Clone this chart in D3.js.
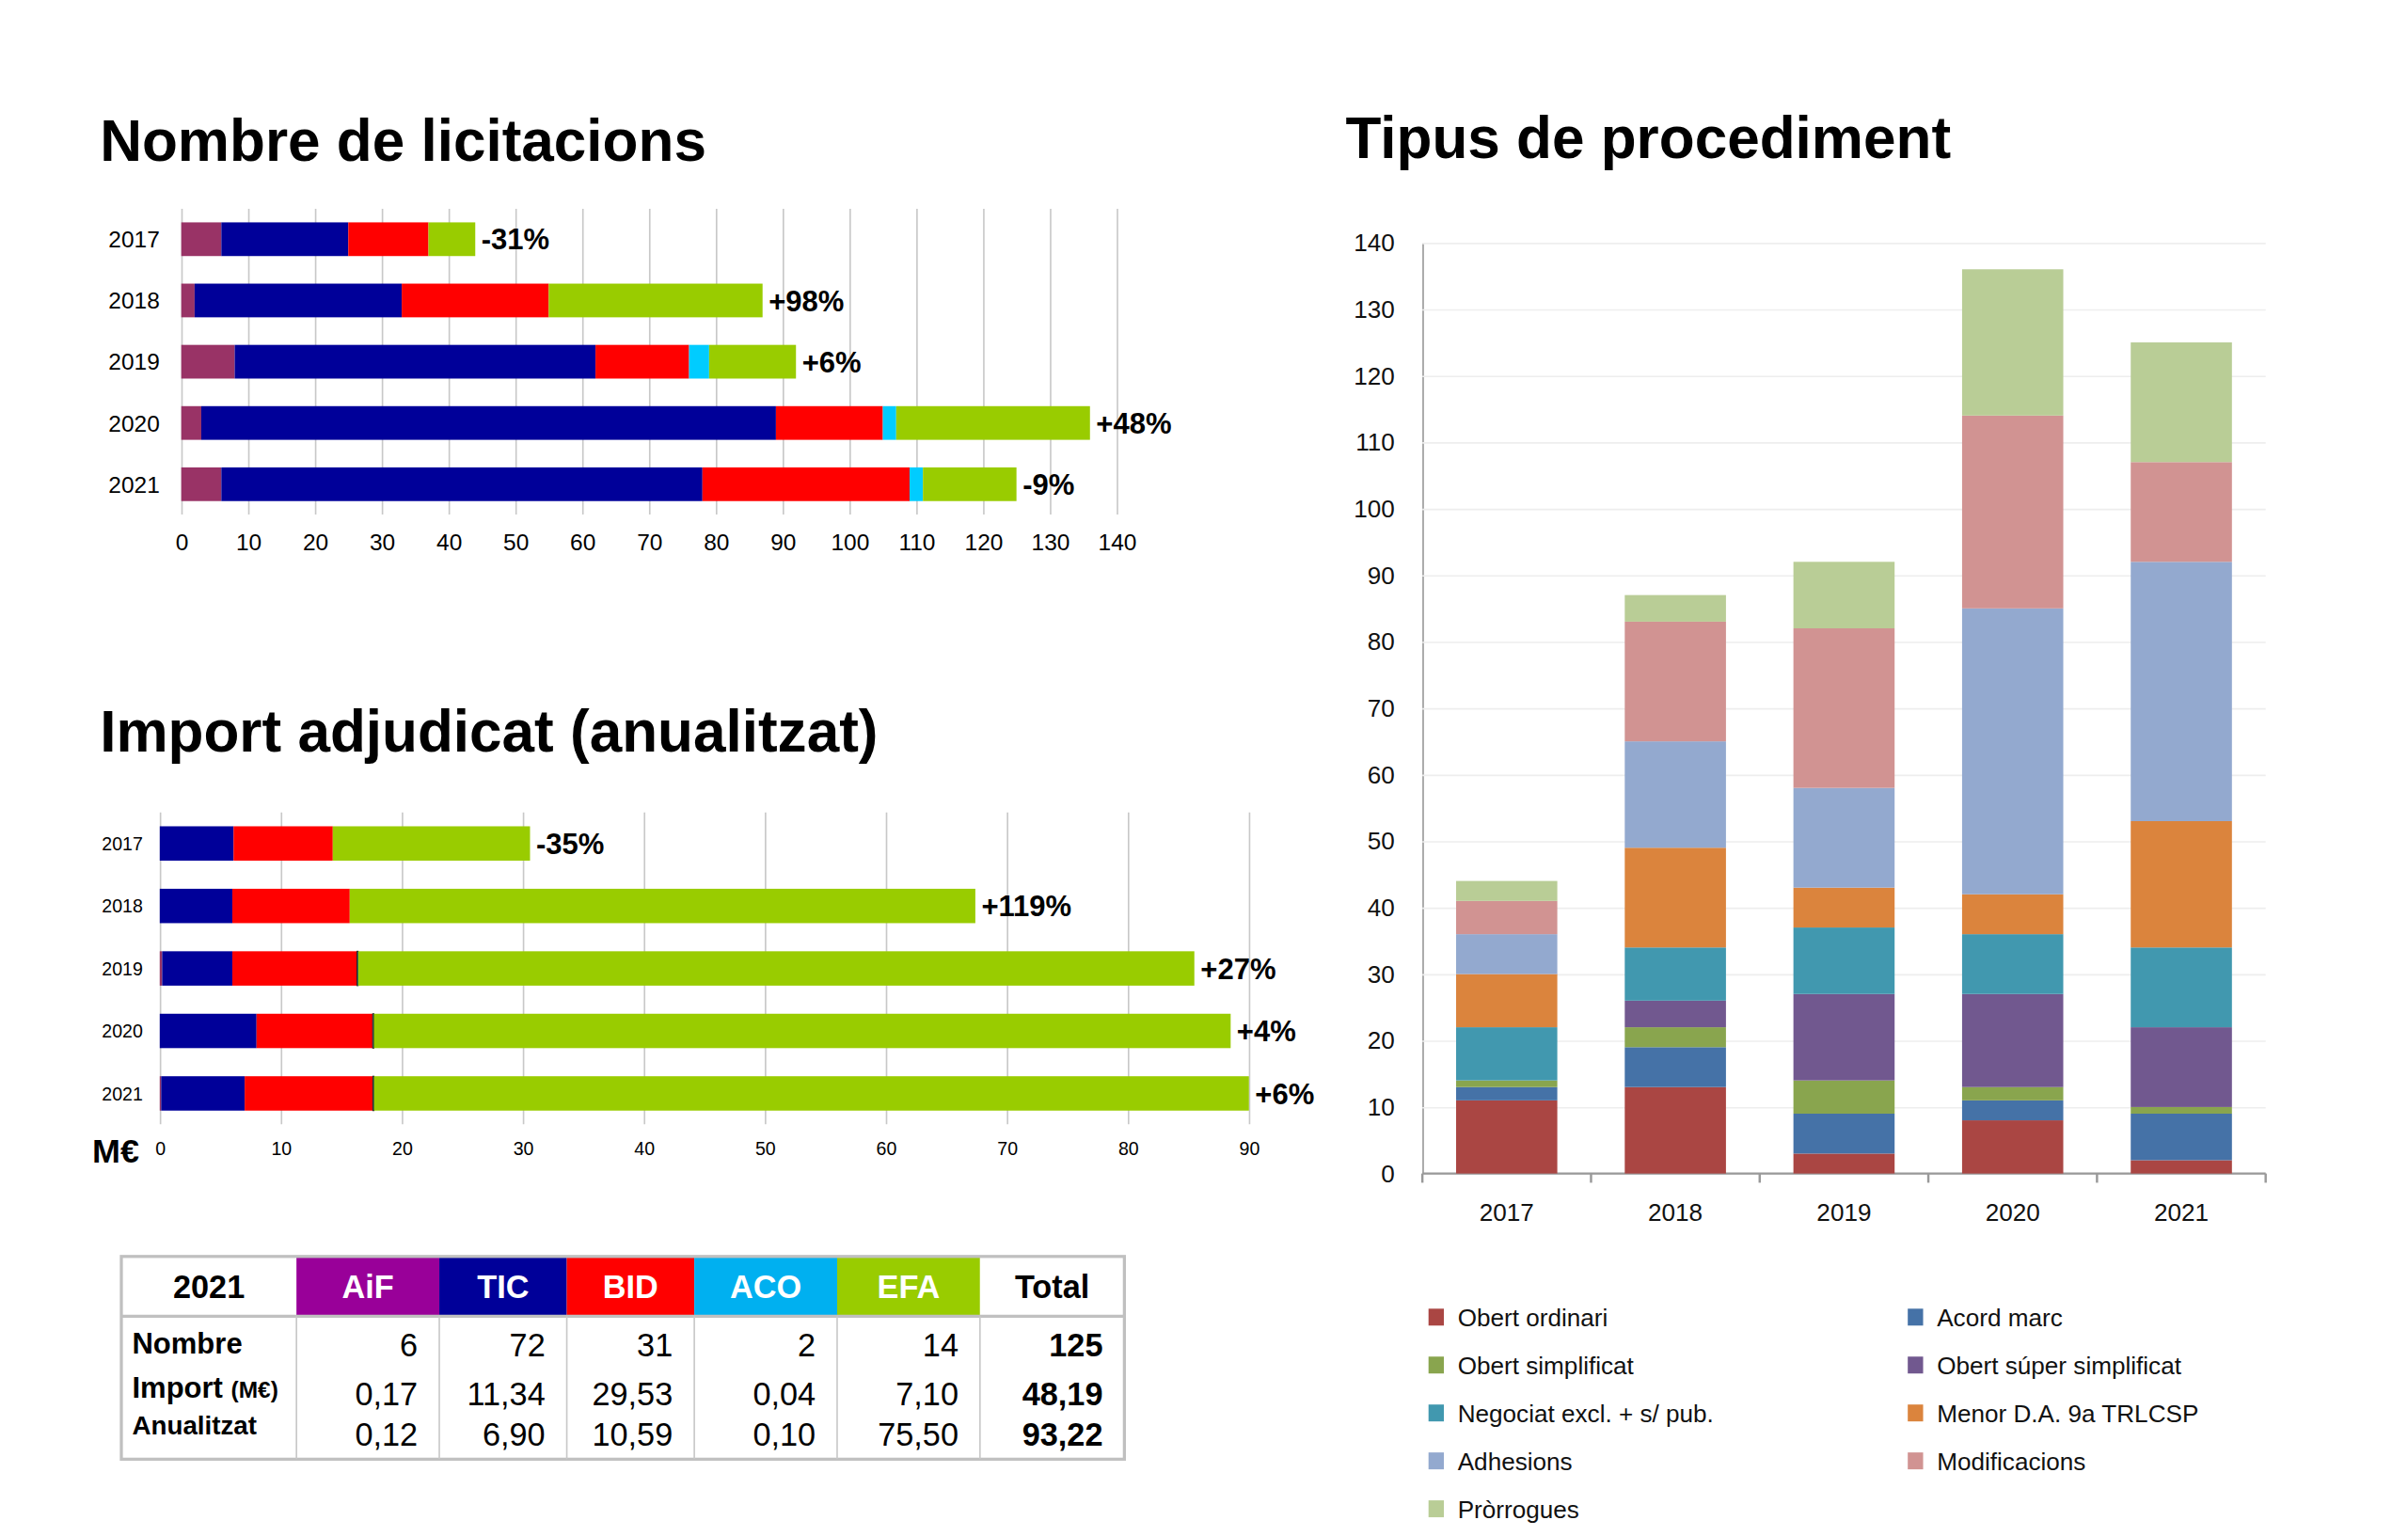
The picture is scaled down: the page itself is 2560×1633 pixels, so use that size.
<!DOCTYPE html>
<html>
<head>
<meta charset="utf-8">
<script src="https://cdn.jsdelivr.net/npm/d3@7"></script>
<style>
body { margin: 0; background: #fff; }
text { font-family: "Liberation Sans", Arial, sans-serif; }
</style>
</head>
<body>
<div id="chart"></div>
<script>
// data
var years = ["2017", "2018", "2019", "2020", "2021"];
var units = ["AiF", "TIC", "BID", "ACO", "EFA"];
var unitColors = ["#993366", "#000099", "#ff0000", "#00ccff", "#99cc00"];

var nombreAiF = [6, 2, 8, 3, 6];
var nombreTIC = [19, 31, 54, 86, 72];
var nombreBID = [12, 22, 14, 16, 31];
var nombreACO = [0, 0, 3, 2, 2];
var nombreEFA = [7, 32, 13, 29, 14];
var nombrePct = ["-31%", "+98%", "+6%", "+48%", "-9%"];

var importAiF = [0, 0, 0.2, 0, 0.12];
var importTIC = [6.1, 6.0, 5.8, 8.0, 6.9];
var importBID = [8.2, 9.7, 10.3, 9.6, 10.59];
var importACO = [0, 0, 0.1, 0.1, 0.1];
var importEFA = [16.3, 51.7, 69.1, 70.8, 72.3];
var importPct = ["-35%", "+119%", "+27%", "+4%", "+6%"];

var procNames = ["Obert ordinari", "Acord marc", "Obert simplificat", "Obert súper simplificat",
  "Negociat excl. + s/ pub.", "Menor D.A. 9a TRLCSP", "Adhesions", "Modificacions", "Pròrrogues"];
var procColors = ["#aa4643", "#4572a7", "#89a54e", "#71588f", "#4198af", "#db843d", "#93a9cf", "#d19392", "#b9cd96"];
var obertOrdinari = [11, 13, 3, 8, 2];
var acordMarc = [2, 6, 6, 3, 7];
var obertSimplificat = [1, 3, 5, 2, 1];
var obertSuper = [0, 4, 13, 14, 12];
var negociat = [8, 8, 10, 9, 12];
var menor = [8, 15, 6, 6, 19];
var adhesions = [6, 16, 15, 43, 39];
var modificacions = [5, 18, 24, 29, 15];
var prorrogues = [3, 4, 10, 22, 18];

var tableHead = ["2021", "AiF", "TIC", "BID", "ACO", "EFA", "Total"];
var headColors = ["#fff", "#990099", "#000099", "#ff0000", "#00b0f0", "#99cc00", "#fff"];
var rowLabels = ["Nombre", "Import", "Anualitzat"];
var rowNombre = ["6", "72", "31", "2", "14", "125"];
var rowImport = ["0,17", "11,34", "29,53", "0,04", "7,10", "48,19"];
var rowAnual = ["0,12", "6,90", "10,59", "0,10", "75,50", "93,22"];

var s = 1633 / 1000;
var svg = d3.select("#chart").append("svg").attr("width", 2560).attr("height", 1633);
var root = svg.append("g").attr("transform", "scale(" + s + ")");

function title(x, y, t) {
  root.append("text").attr("x", x).attr("y", y).attr("font-size", 38).attr("font-weight", "bold").text(t);
}
title(65, 105, "Nombre de licitacions");
title(65, 489, "Import adjudicat (anualitzat)");
title(876, 103, "Tipus de procediment");

function hbars(cfg) {
  var g = root.append("g");
  var x = d3.scaleLinear().domain([0, cfg.max]).range([cfg.x0, cfg.x1]);
  var y = d3.scaleBand().domain(years).range([cfg.top, cfg.bottom]).paddingInner(0.45).paddingOuter(0.22);
  g.append("g").attr("transform", "translate(0," + cfg.bottom + ")")
    .call(d3.axisBottom(x).ticks(cfg.max / 10).tickSize(cfg.bottom - cfg.top).tickSizeOuter(0))
    .call(function (a) {
      a.select(".domain").remove();
      a.selectAll("line").attr("stroke", "#c8c8c8").attr("stroke-width", 1).attr("transform", "translate(0," + -(cfg.bottom - cfg.top) + ")");
      a.selectAll("text").attr("y", cfg.tickY - cfg.bottom).attr("dy", 0).attr("font-size", cfg.tickFont).attr("fill", "#000")
        .attr("font-family", "Liberation Sans");
    });
  var stack = d3.stack().keys(units)(years.map(function (yr, i) {
    var o = { year: yr };
    units.forEach(function (u, k) { o[u] = cfg.series[k][i]; });
    return o;
  }));
  stack.forEach(function (layer, k) {
    g.selectAll(null).data(layer).enter().append("rect")
      .attr("x", function (d) { return x(d[0]); })
      .attr("width", function (d) { return Math.max(0, x(d[1]) - x(d[0])); })
      .attr("y", function (d) { return y(d.data.year); })
      .attr("height", y.bandwidth())
      .attr("fill", unitColors[k])
      .attr("stroke", k === 3 && cfg.acoDark ? "#222" : "none")
      .attr("stroke-width", 0.6);
  });
  var last = stack[stack.length - 1];
  g.selectAll(null).data(last).enter().append("text")
    .attr("x", function (d) { return x(d[1]) + 4; })
    .attr("y", function (d) { return y(d.data.year) + y.bandwidth() / 2; })
    .attr("dy", "0.36em").attr("font-size", 19).attr("font-weight", "bold")
    .text(function (d, i) { return cfg.pct[i]; });
  g.selectAll(null).data(years).enter().append("text")
    .attr("x", cfg.labelX).attr("y", function (d) { return y(d) + y.bandwidth() / 2; })
    .attr("dy", "0.36em").attr("text-anchor", "end").attr("font-size", cfg.labelFont).text(function (d) { return d; });
}

hbars({ x0: 118, x1: 727, max: 140, top: 136, bottom: 335, tickY: 358, tickFont: 15, labelX: 104, labelFont: 15,
  series: [nombreAiF, nombreTIC, nombreBID, nombreACO, nombreEFA], pct: nombrePct });
hbars({ x0: 104, x1: 813, max: 90, top: 529, bottom: 732, tickY: 752, tickFont: 12, labelX: 93, labelFont: 12,
  series: [importAiF, importTIC, importBID, importACO, importEFA], pct: importPct, acoDark: true });
root.append("text").attr("x", 60).attr("y", 757).attr("font-size", 22).attr("font-weight", "bold").text("M€");

// stacked columns
var procSeries = [obertOrdinari, acordMarc, obertSimplificat, obertSuper, negociat, menor, adhesions, modificacions, prorrogues];
var cx = d3.scaleBand().domain(years).range([926, 1475]).paddingInner(0.4).paddingOuter(0.2);
var cy = d3.scaleLinear().domain([0, 140]).range([764, 158]);
var g3 = root.append("g");
g3.append("g").attr("transform", "translate(926,0)")
  .call(d3.axisLeft(cy).ticks(14).tickSize(-549).tickSizeOuter(0))
  .call(function (a) {
    a.select(".domain").attr("stroke", "#999");
    a.selectAll(".tick line").attr("stroke", "#eeeeee");
    a.selectAll("text").attr("x", -18).attr("font-size", 16).attr("fill", "#111").attr("font-family", "Open Sans");
  });
var xa = g3.append("g").attr("transform", "translate(0,764)");
xa.append("line").attr("x1", 926).attr("x2", 1475).attr("stroke", "#999").attr("stroke-width", 1.5);
xa.selectAll(null).data(d3.range(years.length + 1)).enter().append("line")
  .attr("x1", function (i) { return 926 + i * 549 / years.length; })
  .attr("x2", function (i) { return 926 + i * 549 / years.length; })
  .attr("y2", 6).attr("stroke", "#999").attr("stroke-width", 1.5);
xa.selectAll(null).data(years).enter().append("text")
  .attr("x", function (d) { return cx(d) + cx.bandwidth() / 2; }).attr("y", 31)
  .attr("text-anchor", "middle").attr("font-size", 16).attr("font-family", "Open Sans").attr("fill", "#111").text(function (d) { return d; });
var procStack = d3.stack().keys(d3.range(procNames.length))(years.map(function (yr, i) {
  var o = { year: yr };
  procSeries.forEach(function (sr, k) { o[k] = sr[i]; });
  return o;
}));
procStack.forEach(function (layer, k) {
  g3.selectAll(null).data(layer).enter().append("rect")
    .attr("x", function (d) { return cx(d.data.year); })
    .attr("width", cx.bandwidth())
    .attr("y", function (d) { return cy(d[1]); })
    .attr("height", function (d) { return cy(d[0]) - cy(d[1]); })
    .attr("fill", procColors[k]);
});
// legend
var lg = root.append("g");
procNames.forEach(function (n, i) {
  var col = i % 2, row = Math.floor(i / 2);
  var lx = 930 + col * 312, ly = 858 + row * 31.2;
  lg.append("rect").attr("x", lx).attr("y", ly - 6).attr("width", 10).attr("height", 11).attr("fill", procColors[i]);
  lg.append("text").attr("x", lx + 19).attr("y", ly).attr("dy", "0.35em").attr("font-size", 16)
    .attr("font-family", "Open Sans").attr("fill", "#111").text(n);
});

// table
var colX = [79, 193, 286, 369, 452, 545, 638, 732];
var tg = root.append("g");
tableHead.forEach(function (h, i) {
  tg.append("rect").attr("x", colX[i]).attr("y", 818).attr("width", colX[i + 1] - colX[i]).attr("height", 39).attr("fill", headColors[i]);
  tg.append("text").attr("x", (colX[i] + colX[i + 1]) / 2).attr("y", 845).attr("text-anchor", "middle")
    .attr("font-size", 21).attr("font-weight", "bold").attr("fill", (i === 0 || i === 6) ? "#000" : "#fff").text(h);
});
tg.append("rect").attr("x", 79).attr("y", 818).attr("width", 653).attr("height", 132).attr("fill", "none").attr("stroke", "#c0c0c0").attr("stroke-width", 2);
tg.append("line").attr("x1", 79).attr("x2", 732).attr("y1", 857).attr("y2", 857).attr("stroke", "#c0c0c0").attr("stroke-width", 2);
colX.slice(1, -1).forEach(function (cxv) {
  tg.append("line").attr("x1", cxv).attr("x2", cxv).attr("y1", 857).attr("y2", 950).attr("stroke", "#c8c8c8").attr("stroke-width", 1);
});
var rowsY = [883, 915, 941];
tg.append("text").attr("x", 86).attr("y", 881).attr("font-size", 19).attr("font-weight", "bold").text(rowLabels[0]);
var imp = tg.append("text").attr("x", 86).attr("y", 910).attr("font-size", 19).attr("font-weight", "bold").text(rowLabels[1] + " ");
imp.append("tspan").attr("font-size", 15).text("(M€)");
tg.append("text").attr("x", 86).attr("y", 934).attr("font-size", 17).attr("font-weight", "bold").text(rowLabels[2]);
[rowNombre, rowImport, rowAnual].forEach(function (row, r) {
  row.forEach(function (v, i) {
    tg.append("text").attr("x", colX[i + 2] - 14).attr("y", rowsY[r]).attr("text-anchor", "end")
      .attr("font-size", 21).attr("font-weight", i === 5 ? "bold" : "normal").text(v);
  });
});
</script>
</body>
</html>
